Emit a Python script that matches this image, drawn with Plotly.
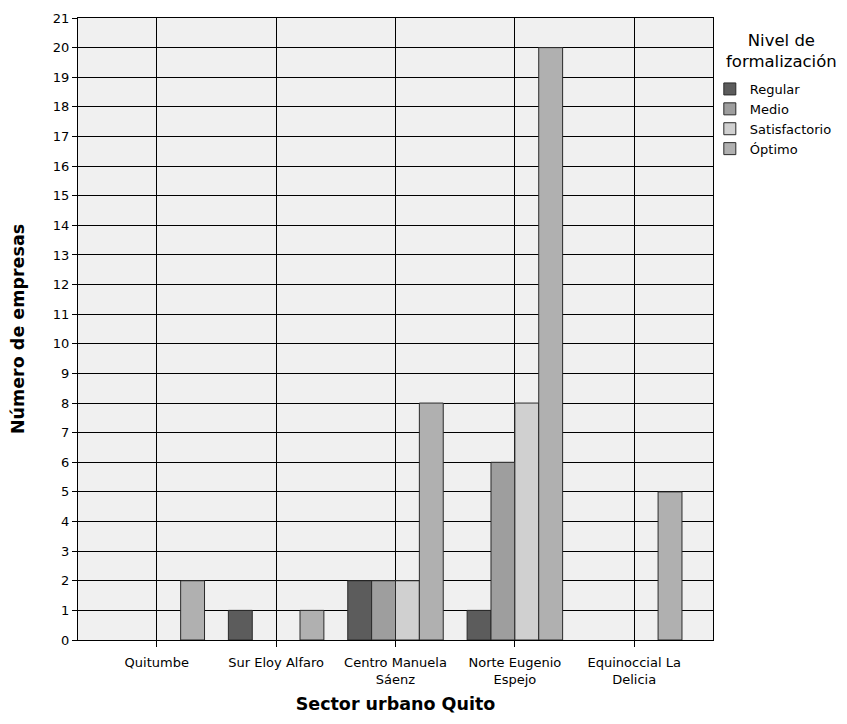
import plotly.graph_objects as go

categories = ["Quitumbe", "Sur Eloy Alfaro", "Centro Manuela<br>Sáenz", "Norte Eugenio<br>Espejo", "Equinoccial La<br>Delicia"]
series_names = ["Regular", "Medio", "Satisfactorio", "Óptimo"]
regular = [0, 1, 2, 1, 0]
medio = [0, 0, 2, 6, 0]
satisfactorio = [0, 0, 2, 8, 0]
optimo = [2, 1, 8, 20, 5]
colors = ["#5c5c5c", "#9e9e9e", "#d0d0d0", "#b0b0b0"]
y_ticks = list(range(0, 22))
legend_title = "Nivel de<br>formalización"

font_family = "DejaVu Sans, Arial, sans-serif"
x_pos = list(range(len(categories)))

fig = go.Figure()
for name, vals, col in zip(series_names, [regular, medio, satisfactorio, optimo], colors):
    fig.add_trace(go.Bar(
        x=x_pos,
        y=[v if v != 0 else None for v in vals],
        name=name,
        marker=dict(color=col, line=dict(color="#2a2a2a", width=1)),
    ))

fig.add_annotation(
    text=legend_title, xref="paper", yref="paper", x=1.108, y=(640 - 51) / 622,
    xanchor="center", yanchor="middle", showarrow=False, align="center",
    font=dict(size=16.5, family=font_family, color="black"),
)

fig.update_layout(
    width=839, height=716,
    margin=dict(l=70, r=132, t=10, b=84),
    barmode="group", bargap=0.2, bargroupgap=0,
    plot_bgcolor="#f0f0f0", paper_bgcolor="white",
    font=dict(family=font_family, size=13, color="black"),
    legend=dict(
        x=0.995, xanchor="left", y=0.91, yanchor="top",
        font=dict(size=13), tracegroupgap=0, itemwidth=30,
        bgcolor="rgba(0,0,0,0)",
    ),
    xaxis=dict(
        range=[-0.66, 4.66], tickmode="array", tickvals=x_pos, ticktext=categories,
        showgrid=True, gridcolor="black", gridwidth=1,
        ticks="outside", ticklen=6, tickcolor="black",
        showline=True, linecolor="black", linewidth=1, mirror=True,
        zeroline=False, automargin=False, ticklabelstandoff=4,
        title=dict(text="<b>Sector urbano Quito</b>", font=dict(size=17.5), standoff=12),
        tickfont=dict(size=13),
    ),
    yaxis=dict(
        range=[0, 21], tickmode="array", tickvals=y_ticks,
        showgrid=True, gridcolor="black", gridwidth=1,
        ticks="outside", ticklen=5, tickcolor="black",
        showline=True, linecolor="black", linewidth=1, mirror=True,
        zeroline=False, automargin=False,
        title=dict(text="<b>Número de empresas</b>", font=dict(size=17.5), standoff=24),
        tickfont=dict(size=13),
    ),
)

fig.write_html("out.html")
